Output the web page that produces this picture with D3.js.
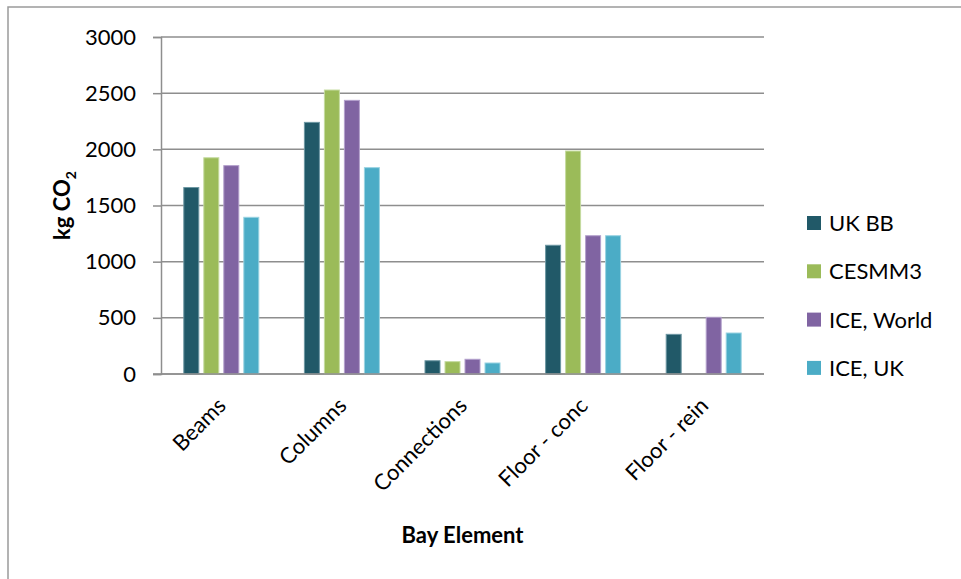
<!DOCTYPE html>
<html>
<head>
<meta charset="utf-8">
<script src="https://cdn.jsdelivr.net/npm/d3@7"></script>
<style>
  html, body { margin: 0; padding: 0; background: #fff; }
  svg { display: block; font-family: Lato, "Open Sans", sans-serif; }
</style>
</head>
<body>
<svg id="chart" width="961" height="579"></svg>
<script>
// Embodied carbon per bay element, four data sources
const categories = ["Beams", "Columns", "Connections", "Floor - conc", "Floor - rein"];
const seriesNames = ["UK BB", "CESMM3", "ICE, World", "ICE, UK"];
const ukBB     = [1660, 2240, 118, 1146, 353];
const cesmm3   = [1925, 2528, 110, 1985, 0];
const iceWorld = [1855, 2436, 131, 1231, 505];
const iceUK    = [1395, 1837,  98, 1231, 365];
const yTicks = [0, 500, 1000, 1500, 2000, 2500, 3000];
const colors = ["#215968", "#9bbb59", "#8064a2", "#4bacc6"];
const edgeColors = ["#6d97a3", "#c5dba0", "#b3a0cc", "#9ad3e2"];

const seriesValues = [ukBB, cesmm3, iceWorld, iceUK];

const svg = d3.select("#chart");
const plot = { left: 161, right: 764, top: 37, bottom: 374 };

// outer chart frame
svg.append("rect")
  .attr("x", 8).attr("y", 7)
  .attr("width", 1000).attr("height", 1000)
  .attr("fill", "none")
  .attr("stroke", "#9a9a9a")
  .attr("stroke-width", 1.5);

const y = d3.scaleLinear().domain([0, 3000]).range([plot.bottom, plot.top]);
const x0 = d3.scaleBand().domain(categories)
  .range([plot.left, plot.right])
  .paddingInner(0.378).paddingOuter(0.189);
const x1 = d3.scaleBand().domain(seriesNames)
  .range([0, x0.bandwidth()])
  .paddingInner(0.25);

// horizontal gridlines
svg.append("g")
  .selectAll("line")
  .data(yTicks)
  .join("line")
  .attr("x1", plot.left).attr("x2", plot.right)
  .attr("y1", d => y(d)).attr("y2", d => y(d))
  .attr("stroke", "#8e8e8e")
  .attr("stroke-width", 1.5);

// y axis
const yAxis = svg.append("g")
  .attr("transform", `translate(${plot.left},0)`)
  .call(d3.axisLeft(y).tickValues(yTicks).tickSize(8).tickPadding(17).tickFormat(d3.format("d")));
yAxis.select(".domain").attr("stroke", "#8e8e8e").attr("stroke-width", 1.5);
yAxis.selectAll(".tick line").attr("stroke", "#8e8e8e").attr("stroke-width", 1.5);
yAxis.selectAll(".tick text")
  .attr("font-family", "Lato, sans-serif")
  .attr("font-size", 22)
  .attr("fill", "#000");

// bars
const rows = categories.map((c, i) => ({
  cat: c,
  vals: seriesNames.map((s, j) => ({ s, j, v: seriesValues[j][i] }))
}));
svg.append("g")
  .selectAll("g")
  .data(rows)
  .join("g")
  .attr("transform", d => `translate(${x0(d.cat)},0)`)
  .selectAll("rect")
  .data(d => d.vals.filter(e => e.v > 0))
  .join("rect")
  .attr("x", d => x1(d.s))
  .attr("y", d => y(d.v))
  .attr("width", x1.bandwidth())
  .attr("height", d => y(0) - y(d.v))
  .attr("fill", d => colors[d.j])
  .attr("stroke", d => edgeColors[d.j])
  .attr("stroke-width", 1);

// x axis baseline and category labels
svg.append("line")
  .attr("x1", plot.left - 8).attr("x2", plot.right)
  .attr("y1", y(0)).attr("y2", y(0))
  .attr("stroke", "#8e8e8e").attr("stroke-width", 1.5);

svg.append("g")
  .selectAll("text")
  .data(categories)
  .join("text")
  .attr("transform", d => `translate(${x0(d) + x0.bandwidth() / 2 + 6},${plot.bottom + 33}) rotate(-45)`)
  .attr("text-anchor", "end")
  .attr("font-size", 22)
  .attr("fill", "#000")
  .text(d => d);

// axis titles
svg.append("text")
  .attr("x", (plot.left + plot.right) / 2)
  .attr("y", 543)
  .attr("text-anchor", "middle")
  .attr("font-size", 22)
  .attr("font-weight", "bold")
  .text("Bay Element");

const yTitle = svg.append("text")
  .attr("transform", `translate(70,${(plot.top + plot.bottom) / 2}) rotate(-90)`)
  .attr("text-anchor", "middle")
  .attr("font-size", 22)
  .attr("font-weight", "bold");
yTitle.append("tspan").text("kg CO");
yTitle.append("tspan").attr("font-size", 14).attr("dy", 6).text("2");

// legend
const legend = svg.append("g")
  .selectAll("g")
  .data(seriesNames)
  .join("g")
  .attr("transform", (d, i) => `translate(807,${223 + i * 48.3})`);
legend.append("rect")
  .attr("x", 0).attr("y", -7)
  .attr("width", 14).attr("height", 14)
  .attr("fill", (d, i) => colors[i]);
legend.append("text")
  .attr("x", 22).attr("y", 0)
  .attr("dy", "0.36em")
  .attr("font-size", 22)
  .attr("fill", "#000")
  .text(d => d);
</script>
</body>
</html>
